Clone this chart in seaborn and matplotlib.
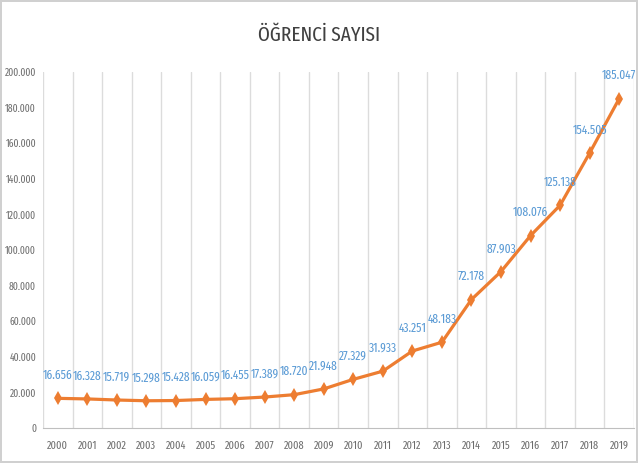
import pandas as pd
import seaborn as sns
import matplotlib.pyplot as plt
from matplotlib.ticker import FuncFormatter, MultipleLocator

# Veriler
yillar = list(range(2000, 2020))
ogrenci = [16656, 16328, 15719, 15298, 15428, 16059, 16455, 17389, 18720, 21948,
           27329, 31933, 43251, 48183, 72178, 87903, 108076, 125138, 154505, 185047]
baslik = "ÖĞRENCİ SAYISI"

df = pd.DataFrame({"yil": yillar, "ogrenci": ogrenci})


def nokta(v):
    return f"{v:,.0f}".replace(",", ".")


sns.set_style("white")
plt.rcParams['font.family'] = ['Fira Sans Extra Condensed', 'DejaVu Sans']

fig = plt.figure(figsize=(6.38, 4.63), dpi=100)
fig.patch.set_edgecolor("#D0D0D0")
fig.patch.set_linewidth(1.5)
ax = fig.add_axes([0.0674, 0.0756, 0.9263, 0.7689])

sns.lineplot(data=df, x="yil", y="ogrenci", ax=ax, color="#ED7D31",
             linewidth=2.3, marker="d", markersize=7, markeredgewidth=0)

# Nokta etiketleri
for x, y in zip(yillar, ogrenci):
    ax.annotate(nokta(y), (x, y), xytext=(0, 12), textcoords="offset points",
                ha="center", va="bottom", fontsize=9, color="#5B9BD5")

ax.set_xlim(1999.5, 2019.5)
ax.set_ylim(0, 200000)
ax.set_xticks(yillar)
ax.xaxis.set_minor_locator(MultipleLocator(1, offset=0.5))
ax.yaxis.set_major_locator(MultipleLocator(20000))
ax.yaxis.set_major_formatter(FuncFormatter(lambda v, p: nokta(v)))
ax.grid(False)
ax.grid(which="minor", axis="x", color="#DCDCDC", linewidth=1)
ax.tick_params(which="both", length=0)
ax.tick_params(axis="x", labelsize=8, labelcolor="#6E6E6E", pad=9)
ax.tick_params(axis="y", labelsize=7.5, labelcolor="#6E6E6E", pad=5)
ax.set_xlabel("")
ax.set_ylabel("")
for s in ["top", "right", "left"]:
    ax.spines[s].set_visible(False)
ax.spines["bottom"].set_color("#BFBFBF")

fig.text(0.5, 0.924, baslik, ha="center", va="center", fontsize=15, color="#404040")

fig.savefig("out.png", dpi=100, edgecolor=fig.get_edgecolor())
